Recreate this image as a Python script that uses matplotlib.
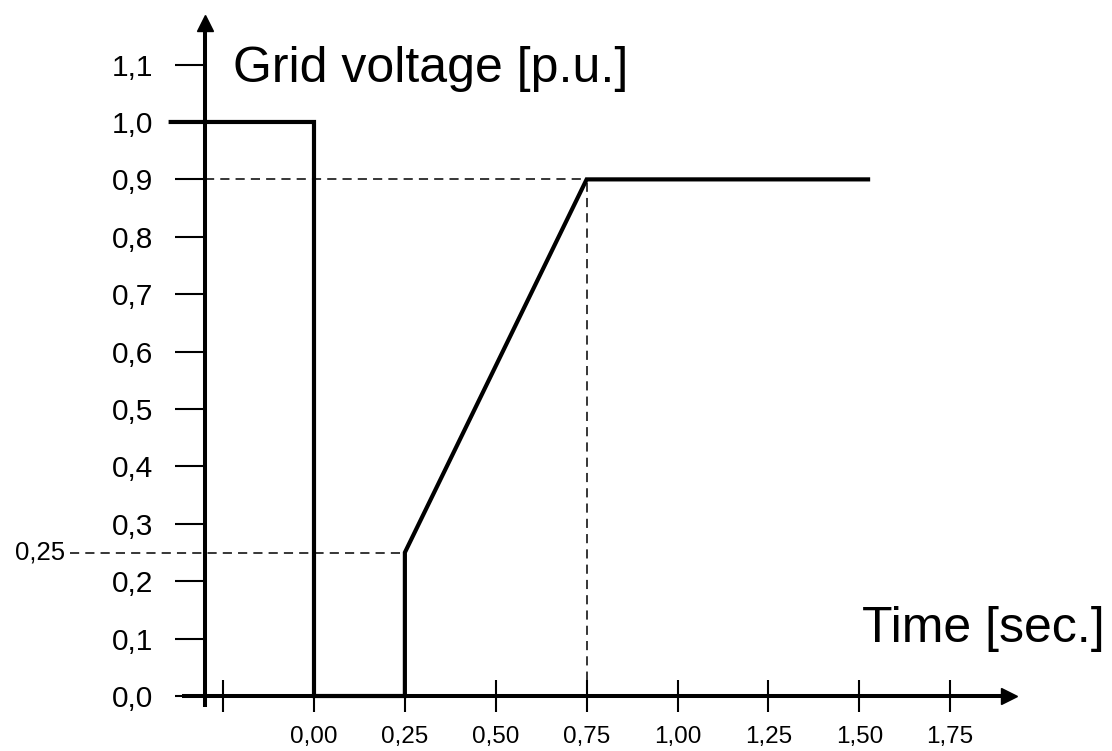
import matplotlib
matplotlib.use("Agg")
import matplotlib.pyplot as plt

plt.rcParams['font.family'] = ['Liberation Sans', 'DejaVu Sans']

# ---- data ----
time_pts = [-0.40, 0.00, 0.00, 0.25, 0.25, 0.75, 1.53]
volt_pts = [1.00, 1.00, 0.00, 0.00, 0.25, 0.90, 0.90]

x_ticks = [-0.25, 0.00, 0.25, 0.50, 0.75, 1.00, 1.25, 1.50, 1.75]
x_ticklabels = ['', '0,00', '0,25', '0,50', '0,75', '1,00', '1,25', '1,50', '1,75']
y_ticks = [0.0, 0.1, 0.2, 0.3, 0.4, 0.5, 0.6, 0.7, 0.8, 0.9, 1.0, 1.1]
y_ticklabels = ['0,0', '0,1', '0,2', '0,3', '0,4', '0,5', '0,6', '0,7', '0,8', '0,9', '1,0', '1,1']

recovery_start = (0.25, 0.25)
recovery_end = (0.75, 0.90)

y_title = 'Grid voltage [p.u.]'
x_title = 'Time [sec.]'

# ---- figure ----
fig = plt.figure(figsize=(11.12, 7.51), dpi=100)
ax = fig.add_axes([0, 0, 1, 1])
ax.set_xlim(-0.8638, 2.1953)
ax.set_ylim(-0.0958, 1.2125)
ax.patch.set_alpha(0)

yaxis_x = -0.30
ax.spines['right'].set_visible(False)
ax.spines['top'].set_visible(False)
ax.spines['left'].set_position(('data', yaxis_x))
ax.spines['bottom'].set_position(('data', 0.0))
ax.spines['left'].set_bounds(-0.019, 1.16)
ax.spines['bottom'].set_bounds(-0.363, 1.90)
for s in ('left', 'bottom'):
    ax.spines[s].set_linewidth(2.9)
    ax.spines[s].set_capstyle('butt')

# axis arrows
ax.plot([1.913], [0.0], marker='>', color='black', markersize=12, clip_on=False)
ax.plot([yaxis_x], [1.173], marker='^', color='black', markersize=12, clip_on=False)

ax.set_xticks(x_ticks)
ax.set_xticklabels(x_ticklabels)
ax.set_yticks(y_ticks)
ax.set_yticklabels(y_ticklabels)
ax.tick_params(axis='x', direction='inout', length=23, width=1.5, pad=10,
               labelsize=17.5, colors='black')
ax.tick_params(axis='y', direction='out', length=21.5, width=1.5, pad=16,
               labelsize=21.5, colors='black')

# dashed guide lines
dash = dict(color='black', linewidth=1.1, linestyle=(0, (6, 4)))
ax.plot([yaxis_x, recovery_end[0]], [recovery_end[1], recovery_end[1]], **dash)
ax.plot([recovery_end[0], recovery_end[0]], [0.0, recovery_end[1]], **dash)
ax.plot([-0.671, recovery_start[0]], [recovery_start[1], recovery_start[1]], **dash)
ax.text(-0.685, recovery_start[1], '0,25', ha='right', va='center', fontsize=18.5,
        color='black')

# main line
ax.plot(time_pts, volt_pts, color='black', linewidth=3, solid_joinstyle='miter',
        solid_capstyle='butt')

ax.text(-0.223, 1.0697, y_title, fontsize=36, ha='left', va='baseline')
ax.text(1.5076, 0.094, x_title, fontsize=36, ha='left', va='baseline')

fig.savefig('out.png', dpi=100)
